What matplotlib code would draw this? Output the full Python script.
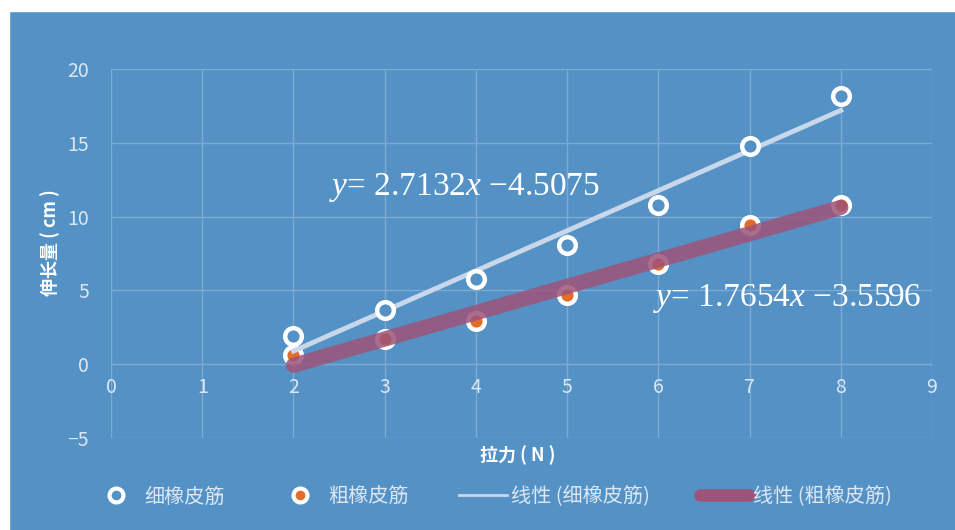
import numpy as np
import matplotlib.pyplot as plt
from matplotlib.patches import Rectangle
from matplotlib.lines import Line2D

plt.rcParams['font.family'] = ['Noto Sans CJK SC', 'DejaVu Sans']
plt.rcParams['mathtext.fontset'] = 'custom'
plt.rcParams['mathtext.rm'] = 'Liberation Serif'
plt.rcParams['mathtext.it'] = 'Liberation Serif:italic'

# data
force = [2, 3, 4, 5, 6, 7, 8]
thin = [1.9, 3.7, 5.8, 8.1, 10.8, 14.8, 18.2]
thick = [0.6, 1.7, 2.9, 4.7, 6.8, 9.4, 10.8]
xticks = [0, 1, 2, 3, 4, 5, 6, 7, 8, 9]
yticks = [-5, 0, 5, 10, 15, 20]
labels = ['细橡皮筋', '粗橡皮筋', '线性 (细橡皮筋)', '线性 (粗橡皮筋)']

bg = '#5492C6'
grid = '#7DAAD3'
tick_col = '#DCE7F3'

fig = plt.figure(figsize=(9.55, 5.3), dpi=100, facecolor=bg)
# white strips at top and left
fig.patches.append(Rectangle((0, 1 - 11 / 530), 1, 11 / 530, transform=fig.transFigure,
                             color='white', zorder=0))
fig.patches.append(Rectangle((0, 0), 9 / 955, 1, transform=fig.transFigure,
                             color='white', zorder=0))
ax = fig.add_axes([111 / 955, 1 - 438 / 530, 821 / 955, 369 / 530])
ax.set_facecolor(bg)

ax.set_xlim(0, 9)
ax.set_ylim(-5, 20)
ax.set_xticks(xticks)
ax.set_yticks(yticks)
ax.set_yticklabels(['\u22125' if t < 0 else str(t) for t in yticks])
ax.grid(True, color=grid, lw=1)
for s in ['top', 'right', 'left']:
    ax.spines[s].set_visible(False)
ax.spines['bottom'].set_position(('data', 0))
ax.spines['bottom'].set_color(grid)
ax.tick_params(length=0, labelsize=14, colors=tick_col)
ax.tick_params(axis='y', pad=16)
ax.tick_params(axis='x', pad=9)
for lab in ax.get_xticklabels() + ax.get_yticklabels():
    lab.set_fontweight('light')

# trendlines
p1 = np.polyfit(force, thin, 1)
p2 = np.polyfit(force, thick, 1)
xs = np.array([force[0], force[-1]])
ax.plot(xs, np.polyval(p2, xs), color='#9E5379', lw=11, alpha=0.85,
        solid_capstyle='round', zorder=3)
ax.plot(xs, np.polyval(p1, xs), color='#C9D7EB', lw=3.5, zorder=3)

ax.plot(force, thin, 'o', ms=12, mfc=bg, mec='white', mew=3.2, zorder=4)
ax.plot(force, thick, 'o', ms=12, mfc='#E46C2A', mec='white', mew=3.2, zorder=2)

ax.text(3.87, 12.0, r'$y$= 2.7132$x$ $-$4.5075', fontsize=24, color='white',
        family='Liberation Serif', ha='center', va='center')
ax.text(8.89, 4.45, r'$y$= 1.7654$x$ $-$3.5596', fontsize=24, color='white',
        family='Liberation Serif', ha='right', va='center')

ax.set_ylabel('伸长量 ( cm )', fontsize=13, color='white', fontweight='bold')
ax.yaxis.set_label_coords(-0.062, 0.53)
fig.text(518 / 955, 1 - 455 / 530, '拉力 ( N )', fontsize=13, color='white',
         fontweight='bold', ha='center', va='center')

handles = [
    Line2D([], [], ls='none', marker='o', ms=10, mfc=bg, mec='white', mew=3),
    Line2D([], [], ls='none', marker='o', ms=10, mfc='#E46C2A', mec='white', mew=3),
    Line2D([], [], color='#C9D7EB', lw=2),
    Line2D([], [], color='#9E5379', lw=9, solid_capstyle='round'),
]
leg = fig.legend(handles, labels, loc='center', bbox_to_anchor=(0.515, 1 - 497 / 530),
                 ncol=4, frameon=False, fontsize=14.5, handlelength=2.4,
                 handletextpad=0.2, columnspacing=2.5)
for t in leg.get_texts():
    t.set_color(tick_col)
    t.set_fontweight('light')

fig.savefig('out.png', dpi=100, facecolor=bg)
